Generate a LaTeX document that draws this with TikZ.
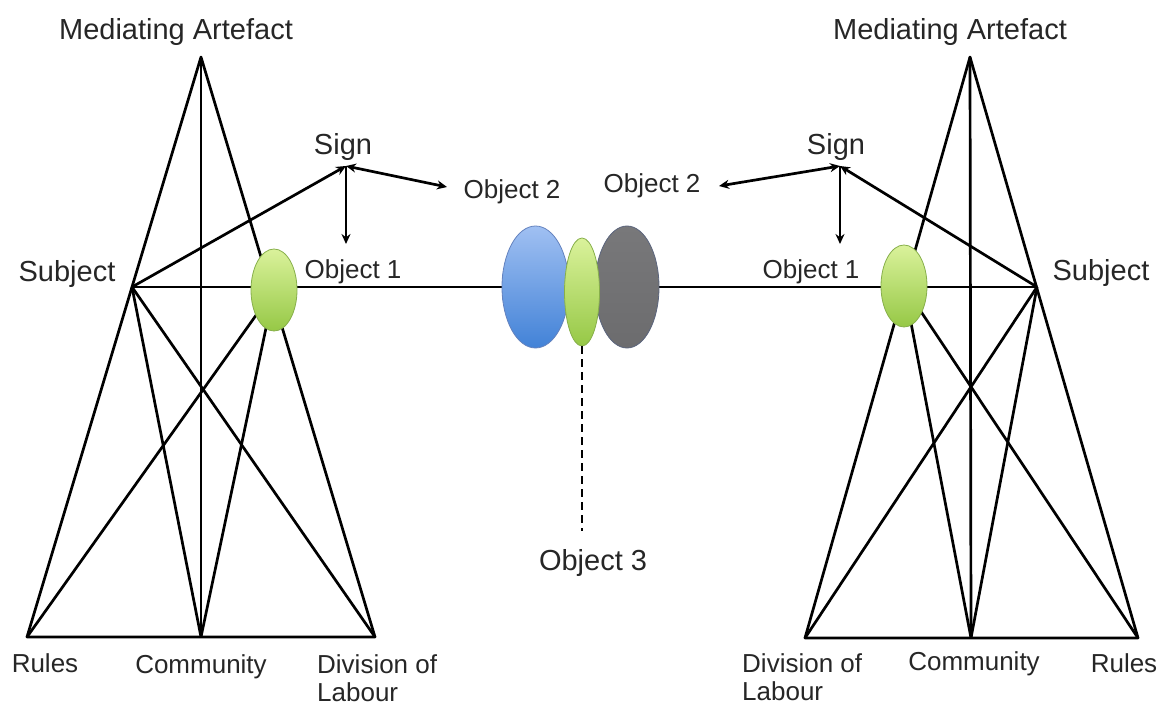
\documentclass[tikz,border=0pt]{standalone}
\usepackage{fontspec}
\setmainfont{Liberation Sans}
\usetikzlibrary{arrows.meta,shapes.geometric}

\definecolor{txt}{rgb}{0.15,0.15,0.15}
\definecolor{bluetop}{RGB}{160,192,242}
\definecolor{bluebot}{RGB}{66,130,215}
\definecolor{blueedge}{RGB}{100,130,190}
\definecolor{graytop}{RGB}{120,120,122}
\definecolor{graybot}{RGB}{108,108,110}
\definecolor{grayedge}{RGB}{90,100,125}
\definecolor{greentop}{RGB}{218,242,155}
\definecolor{greenbot}{RGB}{150,200,70}
\definecolor{greenedge}{RGB}{135,175,75}

\begin{document}
\begin{tikzpicture}[x=1pt,y=-1pt,
  link/.style={line width=2.7pt, black},
  arr/.style={link, -{Stealth[length=10pt,width=9pt]}},
  biarr/.style={link, {Stealth[length=10pt,width=9pt]}-{Stealth[length=10pt,width=9pt]}},
  bigtxt/.style={font=\fontsize{29}{33}\selectfont, text=txt, inner sep=0pt, anchor=base},
  smalltxt/.style={font=\fontsize{26}{28}\selectfont, text=txt, inner sep=0pt, anchor=base},
  objbox/.style={ellipse, inner sep=0pt, line width=0.8pt},
  greenobj/.style={objbox, draw=greenedge, top color=greentop, bottom color=greenbot},
  blueobj/.style={objbox, draw=blueedge, top color=bluetop, bottom color=bluebot},
  grayobj/.style={objbox, draw=grayedge, top color=graytop, bottom color=graybot},
]
\useasboundingbox (0,0) rectangle (1160,706);

% ---------- vertices of the left activity system ----------
\coordinate (A1) at (201,57);
\coordinate (S1) at (132,287);
\coordinate (R1) at (27,637);
\coordinate (C1) at (201,637);
\coordinate (D1) at (375,637);
\coordinate (G1) at (346,166);
\coordinate (G1o1) at (346,244);
\coordinate (G1o2) at (447,187);
\coordinate (O1) at (274,290);

% ---------- vertices of the right activity system ----------
\coordinate (A2) at (970,57);
\coordinate (S2) at (1037,287);
\coordinate (R2) at (1138,638);
\coordinate (C2) at (971,638);
\coordinate (D2) at (805,638);
\coordinate (G2) at (840,166);
\coordinate (G2o1) at (840,244);
\coordinate (G2o2) at (719,186);
\coordinate (O2) at (904,286);

% ---------- shared object ----------
\coordinate (Bc) at (535.5,287);
\coordinate (Gc) at (627,287);
\coordinate (Mc) at (582,292);
\coordinate (O3) at (582,531);

% left triangle lines
\draw[link, line join=round] (A1) -- (R1) -- (D1) -- cycle;
\draw[link] (A1) -- (C1);
\draw[link] (S1) -- (C1);
\draw[link] (S1) -- (D1);
\draw[link] (O1) -- (C1);
\draw[link] (O1) -- (R1);
\draw[link] (S1) -- (O1 |- S1) -- (Bc |- S1);

% right triangle lines
\draw[link, line join=round] (A2) -- (R2) -- (D2) -- cycle;
\draw[link] (A2) -- (C2);
\draw[link] (S2) -- (C2);
\draw[link] (S2) -- (D2);
\draw[link] (O2) -- (C2);
\draw[link] (O2) -- (R2);
\draw[link] (S2) -- (Gc |- S2);

% sign mediation arrows
\draw[arr] (S1) -- (G1);
\draw[biarr] (G1) -- (G1o2);
\draw[arr] (G1) -- (G1o1);
\draw[arr] (S2) -- (G2);
\draw[biarr] (G2) -- (G2o2);
\draw[arr] (G2) -- (G2o1);

% object ellipses
\node[greenobj, minimum width=46pt, minimum height=82pt] (obj1) at (O1) {};
\node[greenobj, minimum width=46pt, minimum height=82pt] (obj2) at (O2) {};
\node[blueobj, minimum width=67pt, minimum height=122pt] (blue) at (Bc) {};
\node[grayobj, minimum width=64pt, minimum height=122pt] (gray) at (Gc) {};
\node[greenobj, minimum width=35pt, minimum height=108pt] (shared) at (Mc) {};
\draw[link, dash pattern=on 8pt off 5pt] (shared.south) -- (O3);

% labels
\node[bigtxt] (ma1) at (176,40) {Mediating Artefact};
\node[bigtxt] (ma2) at (950,40) {Mediating Artefact};
\node[bigtxt] (sg1) at (343,155) {Sign};
\node[bigtxt] (sg2) at (836,155) {Sign};
\node[bigtxt] (sb1) at (67,281) {Subject};
\node[bigtxt] (sb2) at (1101,280) {Subject};
\node[smalltxt] (ob11) at (353,278) {Object 1};
\node[smalltxt] (ob12) at (811,278) {Object 1};
\node[smalltxt] (ob21) at (512,198) {Object 2};
\node[smalltxt] (ob22) at (652,193) {Object 2};
\node[bigtxt] (ob3) at (593,570) {Object 3};
\node[smalltxt] (ru1) at (45,672) {Rules};
\node[smalltxt] (co1) at (201,673) {Community};
\node[smalltxt, anchor=north west, align=left] (dl1) at (317,654) {Division of\\Labour};
\node[smalltxt] (ru2) at (1124,672) {Rules};
\node[smalltxt] (co2) at (974,670) {Community};
\node[smalltxt, anchor=north west, align=left] (dl2) at (742,653) {Division of\\Labour};
\end{tikzpicture}
\end{document}
